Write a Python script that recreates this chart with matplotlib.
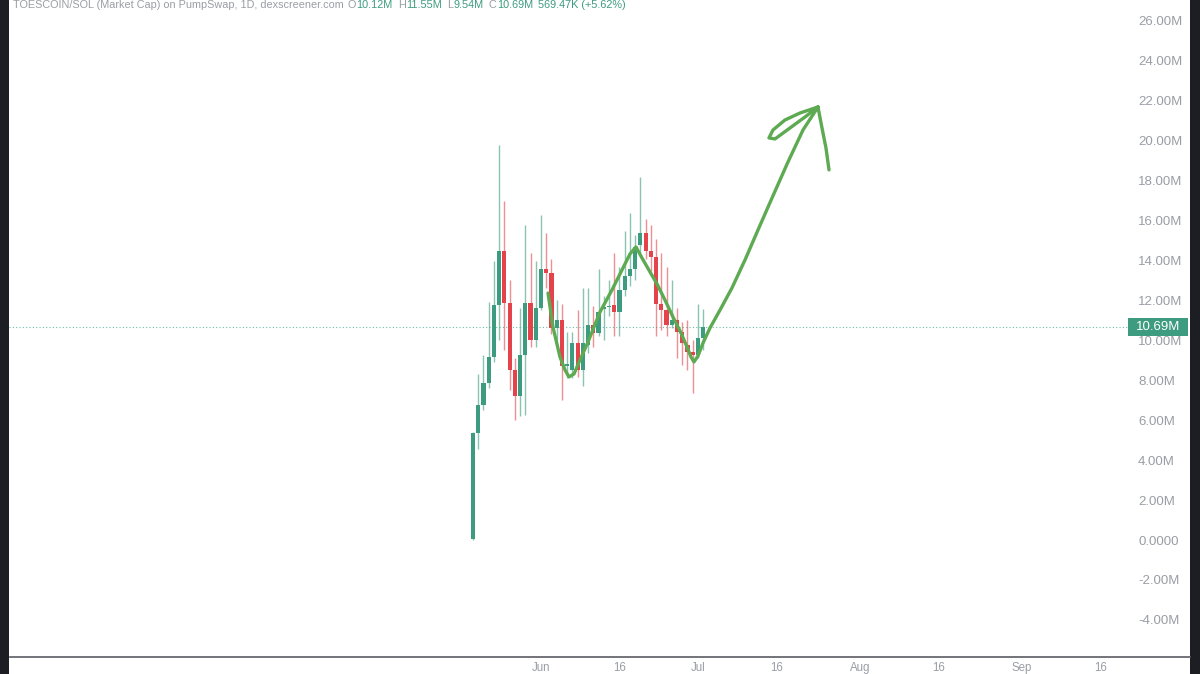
import matplotlib
matplotlib.use('Agg')
import matplotlib.pyplot as plt
import matplotlib.dates as mdates
import matplotlib.transforms as mtransforms
from matplotlib.patches import Rectangle
from matplotlib.lines import Line2D
import pandas as pd
import numpy as np

# ---------------- data (market cap, millions) ----------------
dates = pd.date_range('2025-05-19', periods=45, freq='D')
opens = [0.05, 5.36, 6.76, 7.87, 9.17, 11.77, 14.5, 11.87, 8.5, 7.2,
         9.27, 11.87, 10.0, 11.6, 13.6, 13.4, 10.6, 11.0, 8.7, 8.52,
         9.87, 8.52, 9.77, 10.77, 10.37, 11.55, 11.65, 11.77, 11.4, 12.5,
         13.2, 13.6, 14.8, 15.4, 14.5, 14.2, 11.8, 11.5, 10.77, 11.0,
         10.4, 9.77, 9.42, 9.27, 10.12]
closes = [5.36, 6.76, 7.87, 9.17, 11.77, 14.5, 11.87, 8.5, 7.2, 9.27,
          11.87, 10.0, 11.6, 13.6, 13.4, 10.6, 11.0, 8.7, 8.8, 9.87,
          8.52, 9.87, 10.77, 10.37, 11.4, 11.65, 11.72, 11.4, 12.5, 13.2,
          13.6, 14.7, 15.4, 14.5, 14.2, 11.8, 11.5, 10.77, 11.0, 10.4,
          9.87, 9.42, 9.27, 10.12, 10.69]
highs = [5.4, 8.3, 9.27, 11.9, 14.0, 19.8, 17.0, 13.0, 9.1, 11.6,
         15.8, 14.4, 14.0, 16.3, 15.4, 14.1, 12.0, 11.8, 10.4, 10.4,
         11.5, 12.6, 12.6, 11.7, 13.6, 12.2, 13.0, 14.4, 13.7, 15.5,
         16.4, 15.3, 18.2, 16.1, 15.8, 15.1, 14.4, 13.7, 13.0, 11.6,
         10.9, 11.0, 10.0, 11.8, 11.55]
lows = [0.0, 4.56, 6.5, 7.6, 8.9, 10.0, 9.5, 7.5, 6.0, 6.2,
        6.26, 9.67, 9.67, 11.5, 12.6, 10.3, 10.0, 7.0, 8.1, 8.1,
        8.15, 7.7, 9.37, 9.67, 10.2, 10.0, 11.2, 10.2, 10.2, 12.2,
        12.7, 13.0, 14.3, 14.1, 13.5, 10.2, 10.5, 10.2, 10.6, 9.1,
        8.77, 8.5, 7.36, 9.1, 9.54]
last_price = 10.69

y_ticks = [-4, -2, 0, 2, 4, 6, 8, 10, 12, 14, 16, 18, 20, 22, 24, 26]
x_tick_dates = ['2025-06-01', '2025-06-16', '2025-07-01', '2025-07-16',
                '2025-08-01', '2025-08-16', '2025-09-01', '2025-09-16']
x_tick_labels = ['Jun', '16', 'Jul', '16', 'Aug', '16', 'Sep', '16']

header_title = 'TOESCOIN/SOL (Market Cap) on PumpSwap, 1D, dexscreener.com'
header_keys = ['O', 'H', 'L', 'C']
header_vals = ['10.12M', '11.55M', '9.54M', '10.69M']
header_change = '569.47K (+5.62%)'

# hand-drawn arrow annotation (days after Jun 1, value in M)
arrow_days = [1.34, 2.29, 3.63, 4.59, 5.35, 6.31, 7.46, 8.99, 11.28, 13.58,
              15.49, 17.02, 18.16, 19.31, 20.84, 22.18, 23.71, 25.24, 26.77,
              27.92, 28.68, 29.25, 30.02, 30.98, 32.31, 34.23, 36.52, 39.01,
              41.49, 44.17, 47.23, 50.10, 52.96]
arrow_vals = [12.37, 10.67, 9.17, 8.52, 8.17, 8.32, 9.02, 9.92, 11.42, 12.53,
              13.53, 14.33, 14.68, 14.13, 13.43, 12.83, 12.02, 11.17, 10.37,
              9.67, 9.17, 8.92, 9.22, 9.87, 10.62, 11.52, 12.63, 14.03,
              15.53, 17.13, 18.94, 20.54, 21.69]
loop_days = [52.96, 49.52, 46.65, 44.36, 43.59, 44.74, 47.61, 50.48, 52.96]
loop_vals = [21.69, 21.39, 21.04, 20.54, 20.14, 20.09, 20.64, 21.19, 21.69]
barb_days = [52.96, 53.73, 54.49, 55.07]
barb_vals = [21.69, 20.64, 19.64, 18.54]

# ---------------- style ----------------
GREEN = '#3d9b7f'
RED = '#e5434c'
GRAY = '#9a9da5'
PEN = '#5daa52'
plt.rcParams['font.family'] = ['Liberation Sans', 'DejaVu Sans']

W, H = 1200, 674
fig = plt.figure(figsize=(W / 100, H / 100), dpi=100, facecolor='white')
ax = fig.add_axes([10 / W, 17 / H, 1110 / W, 657 / H])
ax.set_facecolor('white')

jun1 = mdates.date2num(pd.Timestamp('2025-06-01'))
ax.set_xlim(jun1 - 101.53, jun1 + 110.71)
ax.set_ylim(-5.86, 27.05)

xd = mdates.date2num(dates)
o = np.array(opens); c = np.array(closes)
hi = np.array(highs); lo = np.array(lows)
up = c >= o
cols = np.where(up, GREEN, RED)

ax.vlines(xd, lo, hi, colors=cols, linewidth=1.0, alpha=0.6, zorder=2)
body_h = np.maximum(np.abs(c - o), 0.08)
body_b = np.minimum(o, c)
ax.bar(xd, body_h, bottom=body_b, width=0.8, color=cols, linewidth=0, zorder=3)

# last price dotted line
ax.axhline(last_price, xmin=-0.01, xmax=(1128 - 10) / 1110, color='#6dbcaa',
           linestyle=(0, (1, 2)), linewidth=0.8, zorder=1, clip_on=False)

# hand-drawn arrow
pen_kw = dict(color=PEN, linewidth=2.4, solid_capstyle='round',
              solid_joinstyle='round', zorder=5)
ax.plot(jun1 + np.array(arrow_days), arrow_vals, **pen_kw)
ax.plot(jun1 + np.array(loop_days), loop_vals, **pen_kw)
ax.plot(jun1 + np.array(barb_days), barb_vals, **pen_kw)

# axes formatting
for s in ax.spines.values():
    s.set_visible(False)
ax.yaxis.tick_right()
ax.set_yticks(y_ticks)
ax.set_yticklabels(['0.0000' if v == 0 else f'{v:.2f}M' for v in y_ticks])
ax.tick_params(axis='y', length=0, pad=13, labelsize=9.5, labelcolor=GRAY)
ax.set_xticks(mdates.date2num(pd.to_datetime(x_tick_dates)))
ax.set_xticklabels(x_tick_labels)
ax.tick_params(axis='x', length=0, pad=3.5, labelsize=8.3, labelcolor=GRAY)

# price label box
bt = mtransforms.blended_transform_factory(fig.transFigure, ax.transData)
fig.add_artist(Rectangle((1128 / W, last_price - 0.45), 60 / W, 0.9,
                         transform=bt, facecolor=GREEN, edgecolor='none',
                         zorder=10, clip_on=False))
fig.text(1158 / W, last_price, f'{last_price:.2f}M', transform=bt, color='white',
         fontsize=9.5, ha='center', va='center', zorder=11)

# bottom axis line
fig.add_artist(Line2D([10 / W, 1190 / W], [1 - 657 / H, 1 - 657 / H],
                      transform=fig.transFigure, color='#5a5c63', linewidth=1.2))

# dark side borders
fig.add_artist(Rectangle((0, 0), 9 / W, 1, transform=fig.transFigure,
                         facecolor='#1d1e24', edgecolor='none'))
fig.add_artist(Rectangle((1190 / W, 0), 10 / W, 1, transform=fig.transFigure,
                         facecolor='#1d1e24', edgecolor='none'))

# header, laid out piece by piece
renderer = fig.canvas.get_renderer()
hy = 1 - 5 / H
hfs = 7.8
xpos = 13.0


def put(txt, color, gap_after):
    global xpos
    t = fig.text(xpos / W, hy, txt, color=color, fontsize=hfs, va='center')
    bb = t.get_window_extent(renderer=renderer)
    xpos = bb.x1 + gap_after


put(header_title, GRAY, 4)
for k, v in zip(header_keys, header_vals):
    put(k, GRAY, 0.5)
    put(v, GREEN, 5)
put(header_change, GREEN, 0)

fig.savefig('out.png', dpi=100, facecolor='white')
